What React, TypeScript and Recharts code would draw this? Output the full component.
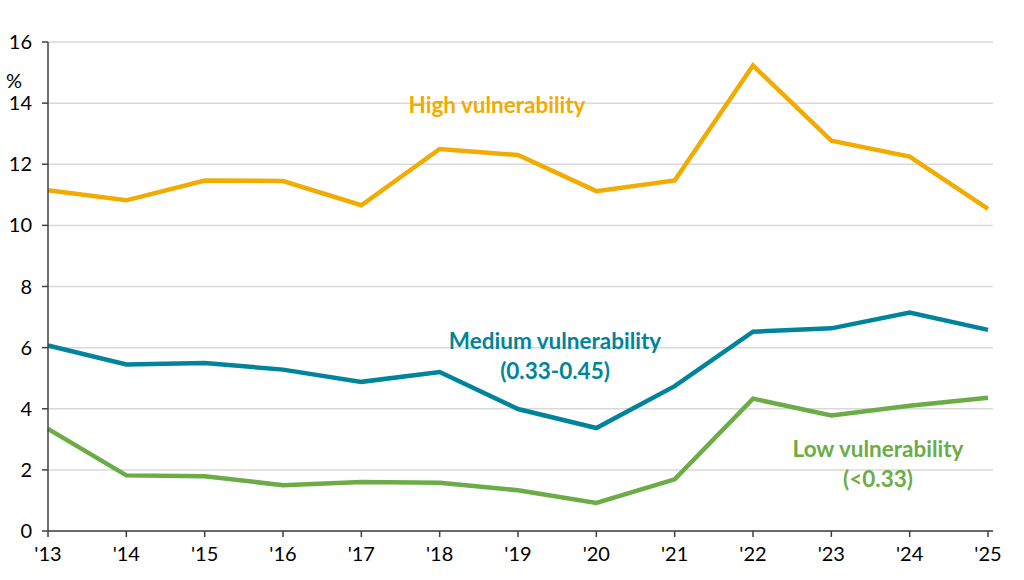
import { CartesianGrid, Customized, Line, LineChart, XAxis, YAxis } from 'recharts'

const years = ["'13", "'14", "'15", "'16", "'17", "'18", "'19", "'20", "'21", "'22", "'23", "'24", "'25"]
const high = [11.15, 10.82, 11.47, 11.45, 10.66, 12.5, 12.3, 11.12, 11.47, 15.23, 12.77, 12.25, 10.54]
const medium = [6.07, 5.45, 5.5, 5.28, 4.88, 5.2, 3.99, 3.37, 4.74, 6.52, 6.63, 7.15, 6.58]
const low = [3.34, 1.82, 1.79, 1.5, 1.6, 1.58, 1.33, 0.92, 1.69, 4.33, 3.78, 4.1, 4.36]
const yTicks = [0, 2, 4, 6, 8, 10, 12, 14, 16]

const data = years.map((year, i) => ({ year, high: high[i], medium: medium[i], low: low[i] }))

const COLORS = { high: '#F2AB00', medium: '#00849B', low: '#6BAC47' }
const FONT = 'Lato, "Open Sans", sans-serif'
const tickStyle = { fontSize: 20, fill: '#000', fontFamily: FONT }

function SeriesLabels() {
  const base = { fontFamily: FONT, fontSize: 22.5, fontWeight: 700, textAnchor: 'middle' as const }
  return (
    <g>
      <text x={14} y={88} fontFamily={FONT} fontSize={20} fill="#000" textAnchor="middle">%</text>
      <text {...base} x={497} y={113} fill={COLORS.high}>High vulnerability</text>
      <text {...base} x={555} y={349} fill={COLORS.medium}>Medium vulnerability</text>
      <text {...base} x={555} y={379} fill={COLORS.medium}>(0.33-0.45)</text>
      <text {...base} x={878} y={457} fill={COLORS.low}>Low vulnerability</text>
      <text {...base} x={878} y={487} fill={COLORS.low}>(&lt;0.33)</text>
    </g>
  )
}

export default function App() {
  return (
    <div style={{ position: 'absolute', left: 0, top: 0, background: '#fff' }}>
      <LineChart width={1024} height={580} data={data} margin={{ top: 42, right: 31, bottom: 0, left: 0 }}>
        <CartesianGrid vertical={false} stroke="#D9D9D9" strokeWidth={1.5} />
        <XAxis
          dataKey="year"
          padding={{ left: 0, right: 5 }}
          height={49}
          tick={tickStyle}
          tickSize={6}
          tickMargin={10}
          axisLine={{ stroke: '#404040', strokeWidth: 1.5 }}
          tickLine={{ stroke: '#404040', strokeWidth: 1.5 }}
          interval={0}
        />
        <YAxis
          domain={[0, 16]}
          ticks={yTicks}
          width={48}
          tick={tickStyle}
          tickSize={6}
          tickMargin={10}
          axisLine={{ stroke: '#404040', strokeWidth: 1.5 }}
          tickLine={{ stroke: '#404040', strokeWidth: 1.5 }}
        />
        <Line dataKey="high" stroke={COLORS.high} strokeWidth={4.5} dot={false} isAnimationActive={false} />
        <Line dataKey="medium" stroke={COLORS.medium} strokeWidth={4.5} dot={false} isAnimationActive={false} />
        <Line dataKey="low" stroke={COLORS.low} strokeWidth={4.5} dot={false} isAnimationActive={false} />
        <Customized component={SeriesLabels} />
      </LineChart>
    </div>
  )
}
